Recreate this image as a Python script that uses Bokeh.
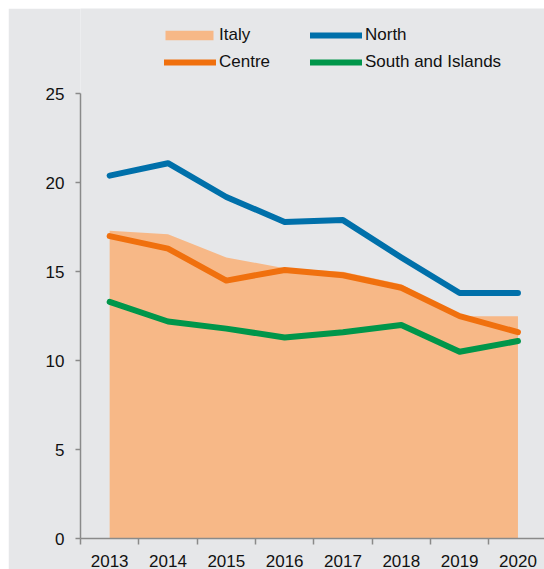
from bokeh.plotting import figure
from bokeh.models import Range1d, FixedTicker, Legend, LegendItem
from bokeh.embed import file_html
from bokeh.resources import INLINE

years = [2013, 2014, 2015, 2016, 2017, 2018, 2019, 2020]
italy = [17.3, 17.1, 15.8, 15.2, 15.0, 14.3, 12.5, 12.5]
north = [20.4, 21.1, 19.2, 17.8, 17.9, 15.8, 13.8, 13.8]
centre = [17.0, 16.3, 14.5, 15.1, 14.8, 14.1, 12.5, 11.6]
south = [13.3, 12.2, 11.8, 11.3, 11.6, 12.0, 10.5, 11.1]
y_ticks = [0, 5, 10, 15, 20, 25]

BG = "#e6e7e9"
BLUE = "#0070aa"
ORANGE = "#f0700e"
ITALY_FILL = "#f7b887"   # average tone of the orange/white checker pattern
GREEN = "#00964a"
AXIS = "#8a8a8a"
FONT = "Liberation Sans"

# frame covers the legend area too; the y axis is bounded to 0..25
FRAME_H = 531
AXIS_H = 445.5
y_top = 25 * FRAME_H / AXIS_H

p = figure(width=536, height=561, output_backend="svg", toolbar_location=None,
           x_range=Range1d(2012.5, 2020.455), y_range=Range1d(0, y_top),
           min_border_left=72, min_border_right=0, min_border_top=0,
           min_border_bottom=30)
p.margin = (8, 0, 0, 8)
p.background_fill_color = BG
p.border_fill_color = BG
p.outline_line_color = None
p.grid.visible = False

r_italy = p.varea(x=years, y1=0, y2=italy, fill_color=ITALY_FILL, fill_alpha=1.0)
r_north = p.line(years, north, line_color=BLUE, line_width=6, line_cap="round", line_join="round")
r_centre = p.line(years, centre, line_color=ORANGE, line_width=6, line_cap="round", line_join="round")
r_south = p.line(years, south, line_color=GREEN, line_width=6, line_cap="round", line_join="round")

# axes
xa = p.xaxis[0]
xa.ticker = FixedTicker(ticks=years, minor_ticks=[y - 0.5 for y in years] + [years[-1] + 0.5])
xa.major_tick_out = 0
xa.major_tick_in = 0
xa.minor_tick_out = 6
xa.minor_tick_in = 0
xa.minor_tick_line_color = AXIS
xa.minor_tick_line_width = 1.5
xa.axis_line_color = AXIS
xa.axis_line_width = 1.5
xa.major_label_standoff = 10
xa.major_label_text_font = FONT
xa.major_label_text_font_size = "17px"
xa.major_label_text_color = "#111111"

ya = p.yaxis[0]
ya.ticker = FixedTicker(ticks=y_ticks)
ya.bounds = (0, 25)
ya.major_tick_out = 5
ya.major_tick_in = 0
ya.minor_tick_out = 0
ya.minor_tick_in = 0
ya.major_tick_line_color = AXIS
ya.major_tick_line_width = 1.5
ya.axis_line_color = AXIS
ya.axis_line_width = 1.5
ya.major_label_standoff = 11
ya.major_label_text_font = FONT
ya.major_label_text_font_size = "17px"
ya.major_label_text_color = "#111111"


def make_legend(items, loc, gw, gh, standoff):
    lg = Legend(items=items, location=loc, orientation="vertical",
                glyph_width=gw, glyph_height=gh, label_standoff=standoff, spacing=7,
                padding=0, margin=0, border_line_color=None,
                background_fill_alpha=0, label_text_font=FONT,
                label_text_font_size="17px", label_text_color="#111111",
                label_height=20)
    p.add_layout(lg, "center")
    return lg

make_legend([LegendItem(label="Italy", renderers=[r_italy])], (79, 493), 60, 12, 0)
make_legend([LegendItem(label="Centre", renderers=[r_centre])], (84, 466), 52, 20, 3)
make_legend([LegendItem(label="North", renderers=[r_north]),
             LegendItem(label="South and Islands", renderers=[r_south])], (230, 466), 52, 20, 3)

open("out.html", "w").write(file_html(p, INLINE))
